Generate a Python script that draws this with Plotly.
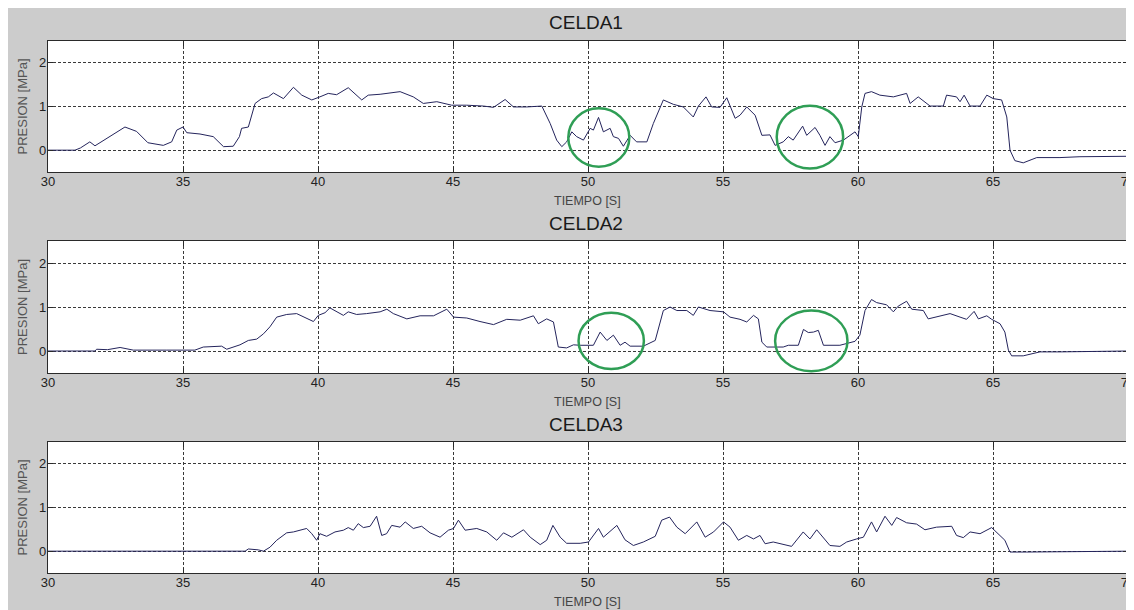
import plotly.graph_objects as go

# ---------------- data ----------------
t1 = [30.0, 30.5, 31.0, 31.2, 31.55, 31.74, 32.17, 32.5, 32.85, 33.28, 33.7, 34.27, 34.58, 34.77,
      35.0, 35.14, 35.63, 36.12, 36.5, 36.86, 37.09, 37.17, 37.42, 37.67, 37.91, 38.16, 38.35,
      38.72, 39.09, 39.4, 39.77, 40.07, 40.38, 40.69, 41.12, 41.62, 41.86, 42.3, 43.04, 43.53,
      43.9, 44.4, 44.95, 45.5, 46.13, 46.5, 46.93, 47.24, 47.73, 48.29, 48.6, 48.84, 49.03,
      49.21, 49.4, 49.58, 49.83, 50.08, 50.2, 50.39, 50.57, 50.82, 50.94, 51.13, 51.31, 51.56,
      51.8, 52.18, 52.42, 52.79, 53.16, 53.53, 53.9, 54.09, 54.37, 54.58, 54.89, 55.14, 55.45,
      55.63, 55.88, 56.19, 56.44, 56.74, 56.93, 57.23, 57.42, 57.6, 57.73, 57.95, 58.1, 58.41,
      58.59, 58.78, 58.96, 59.15, 59.46, 59.7, 59.89, 60.01, 60.14, 60.26, 60.5, 60.81, 61.31,
      61.8, 61.93, 62.23, 62.67, 63.16, 63.28, 63.65, 63.78, 63.93, 64.15, 64.52, 64.77, 65.01,
      65.32, 65.51, 65.63, 65.81, 66.12, 66.62, 67.48, 68.22, 68.72, 70.0]
p1 = [0.0, 0.0, 0.0, 0.05, 0.19, 0.10, 0.27, 0.40, 0.53, 0.43, 0.17, 0.11, 0.19, 0.46,
      0.53, 0.40, 0.37, 0.31, 0.08, 0.09, 0.31, 0.50, 0.53, 1.07, 1.18, 1.22, 1.31,
      1.18, 1.44, 1.26, 1.15, 1.22, 1.30, 1.27, 1.43, 1.15, 1.26, 1.28, 1.34, 1.22,
      1.07, 1.11, 1.03, 1.03, 1.01, 0.98, 1.16, 0.99, 0.99, 1.01, 0.61, 0.23, 0.08,
      0.19, 0.42, 0.31, 0.23, 0.50, 0.46, 0.75, 0.42, 0.50, 0.31, 0.27, 0.09, 0.34,
      0.19, 0.19, 0.61, 1.15, 1.05, 0.99, 0.76, 1.01, 1.22, 0.99, 0.98, 1.20, 0.73,
      0.80, 0.99, 0.80, 0.34, 0.35, 0.11, 0.19, 0.31, 0.23, 0.34, 0.55, 0.34, 0.52,
      0.34, 0.11, 0.31, 0.17, 0.23, 0.34, 0.42, 0.31, 0.99, 1.30, 1.34, 1.26, 1.22,
      1.30, 1.07, 1.22, 1.01, 1.01, 1.26, 1.22, 1.11, 1.26, 1.01, 1.01, 1.26, 1.18,
      1.15, 0.76, 0.0, -0.24, -0.29, -0.17, -0.17, -0.15, -0.15, -0.14]

t2 = [30.0, 31.74, 31.8, 32.2, 32.67, 33.16, 34.4, 35.44, 35.75, 36.12, 36.43, 36.62, 36.86,
      37.11, 37.42, 37.73, 37.98, 38.22, 38.47, 38.84, 39.21, 39.46, 39.83, 40.01, 40.26,
      40.44, 40.69, 40.94, 41.12, 41.43, 41.8, 42.3, 42.55, 42.79, 43.29, 43.78, 44.28,
      44.77, 45.02, 45.51, 46.0, 46.5, 46.99, 47.49, 47.98, 48.16, 48.47, 48.72, 48.9,
      49.21, 49.46, 49.71, 50.2, 50.45, 50.7, 50.94, 51.19, 51.37, 51.56, 52.05, 52.49,
      52.79, 53.04, 53.29, 53.66, 53.9, 54.09, 54.52, 55.02, 55.26, 55.63, 55.88, 56.13,
      56.31, 56.44, 56.62, 57.23, 57.42, 57.79, 57.98, 58.16, 58.35, 58.53, 58.72, 59.33,
      59.89, 60.07, 60.26, 60.5, 60.69, 61.06, 61.31, 61.49, 61.8, 61.99, 62.42, 62.6,
      63.04, 63.41, 63.78, 64.02, 64.3, 64.46, 64.77, 64.95, 65.26, 65.44, 65.57, 65.69,
      66.12, 66.74, 67.48, 68.72, 70.0]
p2 = [0.0, 0.0, 0.04, 0.03, 0.08, 0.02, 0.02, 0.02, 0.09, 0.11, 0.11, 0.04, 0.09,
      0.14, 0.24, 0.27, 0.39, 0.55, 0.77, 0.83, 0.85, 0.77, 0.67, 0.81, 0.87,
      0.98, 0.90, 0.81, 0.89, 0.83, 0.85, 0.89, 0.95, 0.85, 0.73, 0.80, 0.80,
      0.95, 0.77, 0.75, 0.67, 0.60, 0.72, 0.70, 0.80, 0.62, 0.73, 0.66, 0.09,
      0.07, 0.14, 0.13, 0.13, 0.43, 0.24, 0.36, 0.13, 0.20, 0.11, 0.11, 0.24,
      0.92, 1.00, 0.92, 0.92, 0.81, 1.00, 0.92, 0.89, 0.77, 0.72, 0.66, 0.81,
      0.73, 0.20, 0.09, 0.09, 0.13, 0.13, 0.49, 0.42, 0.43, 0.47, 0.13, 0.13,
      0.22, 0.36, 0.92, 1.17, 1.10, 1.05, 0.89, 1.02, 1.13, 0.95, 0.92, 0.73,
      0.80, 0.85, 0.77, 0.72, 0.90, 0.73, 0.80, 0.72, 0.62, 0.43, 0.02, -0.11,
      -0.11, -0.02, -0.02, -0.01, 0.0]

t3 = [30.0, 37.3, 37.42, 37.79, 37.98, 38.22, 38.47, 38.72, 38.84, 39.09, 39.4, 39.58, 39.77,
      39.95, 40.07, 40.32, 40.63, 40.94, 41.12, 41.31, 41.49, 41.68, 41.93, 42.17, 42.36,
      42.54, 42.73, 43.04, 43.23, 43.53, 43.84, 44.15, 44.52, 44.83, 45.02, 45.2, 45.45,
      45.88, 46.25, 46.62, 46.87, 47.18, 47.61, 47.86, 48.23, 48.47, 48.7, 48.97, 49.21,
      49.71, 50.02, 50.39, 50.57, 51.07, 51.37, 51.68, 52.05, 52.49, 52.73, 53.02, 53.29,
      53.6, 54.03, 54.34, 54.65, 55.02, 55.26, 55.57, 55.88, 56.13, 56.37, 56.56, 56.86,
      57.23, 57.54, 57.97, 58.22, 58.47, 58.96, 59.33, 59.58, 59.95, 60.2, 60.5, 60.69,
      61.0, 61.25, 61.43, 61.8, 62.17, 62.48, 62.91, 63.47, 63.65, 63.9, 64.15, 64.52,
      64.95, 65.26, 65.44, 65.63, 66.25, 70.0]
p3 = [0.0, 0.0, 0.05, 0.03, 0.0, 0.09, 0.25, 0.36, 0.42, 0.44, 0.48, 0.52, 0.40,
      0.25, 0.40, 0.34, 0.44, 0.48, 0.54, 0.48, 0.63, 0.54, 0.57, 0.80, 0.36,
      0.40, 0.59, 0.55, 0.67, 0.52, 0.57, 0.42, 0.32, 0.48, 0.52, 0.71, 0.48,
      0.52, 0.44, 0.25, 0.42, 0.32, 0.49, 0.32, 0.15, 0.25, 0.59, 0.32, 0.18,
      0.18, 0.21, 0.52, 0.32, 0.59, 0.26, 0.13, 0.21, 0.34, 0.71, 0.78, 0.55,
      0.40, 0.67, 0.32, 0.44, 0.67, 0.55, 0.25, 0.36, 0.28, 0.36, 0.17, 0.21,
      0.15, 0.11, 0.44, 0.28, 0.49, 0.13, 0.11, 0.21, 0.28, 0.32, 0.67, 0.44,
      0.80, 0.59, 0.77, 0.65, 0.62, 0.49, 0.55, 0.57, 0.36, 0.31, 0.44, 0.40,
      0.54, 0.36, 0.25, -0.02, -0.02, 0.0]

titles = ["CELDA1", "CELDA2", "CELDA3"]
x_label = "TIEMPO [S]"
y_label = "PRESION [MPa]"
x_ticks = [30, 35, 40, 45, 50, 55, 60, 65, 70]
y_ticks = [0, 1, 2]

# green highlight circles: (panel, center t, center p, half-width t, half-height p)
circles = [(1, 50.40, 0.29, 1.13, 0.67), (1, 58.22, 0.30, 1.23, 0.72),
           (2, 50.86, 0.23, 1.21, 0.64), (2, 58.27, 0.23, 1.34, 0.69)]

# ---------------- layout geometry ----------------
# the page body adds an 8px offset; work in page pixels and convert
OFF = 8
PAGE_W, PAGE_H = 1134, 610
W, H = PAGE_W - OFF, PAGE_H - OFF
AX_LEFT, AX_RIGHT = 48, 1128              # page pixels
L, R = AX_LEFT - OFF, W - (AX_RIGHT - OFF)
panels_px = [(41, 172), (241, 373), (442, 573)]   # page px: top, bottom of each axes box


def py(p):
    return 1 - (p - OFF) / H


def px(p):
    return (p - AX_LEFT) / (AX_RIGHT - AX_LEFT)


line_color = "#24245c"
font_family = "Liberation Sans, Arial, sans-serif"

fig = go.Figure()
series = [(t1, p1), (t2, p2), (t3, p3)]
for i, (t, p) in enumerate(series):
    sfx = "" if i == 0 else str(i + 1)
    fig.add_trace(go.Scatter(x=t, y=p, mode="lines", xaxis="x" + sfx, yaxis="y" + sfx,
                             line=dict(color=line_color, width=1), showlegend=False,
                             hoverinfo="skip"))

axis_common = dict(showline=True, linecolor="#2a2a2a", linewidth=1.2, mirror="ticks",
                   ticks="inside", ticklen=5, tickcolor="#2a2a2a", tickwidth=1,
                   showgrid=True, gridcolor="#3a3a3a", gridwidth=1, griddash="3px,2px",
                   zeroline=False, tickfont=dict(family=font_family, size=13, color="#222"))

layout = dict(width=W, height=H, margin=dict(l=L, r=R, t=0, b=0),
              paper_bgcolor="#cccccc", plot_bgcolor="white", showlegend=False)

annotations = []
for i, (top, bot) in enumerate(panels_px):
    sfx = "" if i == 0 else str(i + 1)
    layout["xaxis" + sfx] = dict(axis_common, domain=[0, 1], anchor="y" + sfx,
                                 range=[30, 70], tickvals=x_ticks,
                                 ticktext=[str(v) for v in x_ticks],
                                 ticklabeloverflow="allow", ticklabelstandoff=-3)
    layout["yaxis" + sfx] = dict(axis_common, domain=[py(bot), py(top)], anchor="x" + sfx,
                                 range=[-0.5, 2.5], tickvals=y_ticks,
                                 ticktext=[str(v) for v in y_ticks], ticklabelstandoff=-2)
    annotations.append(dict(text=titles[i], x=px(586), y=py(top - 18), xref="paper",
                            yref="paper", showarrow=False, xanchor="center", yanchor="middle",
                            font=dict(family=font_family, size=19, color="#1a1a1a")))
    annotations.append(dict(text=x_label, x=px(587), y=py(bot + 28.5), xref="paper",
                            yref="paper", showarrow=False, xanchor="center", yanchor="middle",
                            font=dict(family=font_family, size=12.5, color="#444")))
    annotations.append(dict(text=y_label, x=px(22), y=py((top + bot) / 2), xref="paper",
                            yref="paper", showarrow=False, textangle=-90, xanchor="center",
                            yanchor="middle",
                            font=dict(family=font_family, size=13, color="#555")))

shapes = []
for (panel, ct, cp, rt, rp) in circles:
    sfx = "" if panel == 1 else str(panel)
    shapes.append(dict(type="circle", xref="x" + sfx, yref="y" + sfx,
                       x0=ct - rt, x1=ct + rt, y0=cp - rp, y1=cp + rp,
                       line=dict(color="#2f9e55", width=2.5), layer="above"))

layout["annotations"] = annotations
layout["shapes"] = shapes
fig.update_layout(**layout)

fig.write_html("out.html")
